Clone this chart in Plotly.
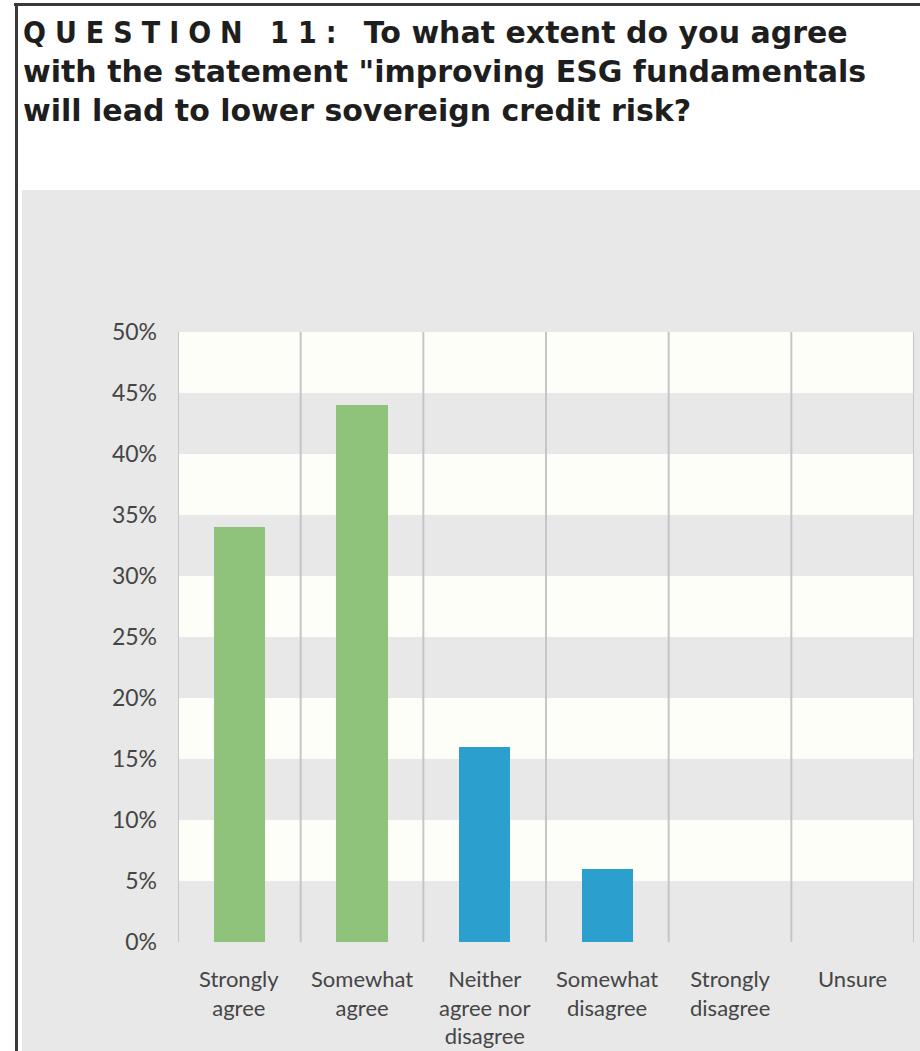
import plotly.graph_objects as go

# Survey responses (share of respondents)
categories = ["Strongly<br>agree", "Somewhat<br>agree", "Neither<br>agree nor<br>disagree",
              "Somewhat<br>disagree", "Strongly<br>disagree", "Unsure"]
shares = [34, 44, 16, 6, 0, 0]
bar_colors = ["#8fc27a", "#8fc27a", "#2b9fcd", "#2b9fcd", "#2b9fcd", "#2b9fcd"]
y_ticks = [0, 5, 10, 15, 20, 25, 30, 35, 40, 45, 50]
y_tick_labels = [f"{v}%" for v in y_ticks]

W, H = 920, 1051
L, R, T, B = 178, 6, 332, 109

px = lambda X: (X - L) / (W - L - R)
py = lambda Y: (H - B - Y) / (H - T - B)

fig = go.Figure()
fig.add_trace(go.Bar(
    x=list(range(len(categories))), y=shares,
    marker=dict(color=bar_colors, line=dict(width=0)),
    width=0.42, showlegend=False, hoverinfo="skip",
))

shapes = [
    # page frame: top and left rules
    dict(type="line", xref="paper", yref="paper", x0=px(14), x1=px(W + 5), y0=py(4.5), y1=py(4.5),
         line=dict(color="#3a3a3a", width=3), layer="above"),
    dict(type="line", xref="paper", yref="paper", x0=px(16.5), x1=px(16.5), y0=py(3), y1=py(H + 5),
         line=dict(color="#3a3a3a", width=3), layer="above"),
    # grey chart panel
    dict(type="rect", xref="paper", yref="paper", x0=px(22), x1=px(W + 5), y0=py(190), y1=py(H + 5),
         fillcolor="#e8e8e8", line=dict(width=0), layer="below"),
]
# alternating light bands
for lo in range(5, 50, 10):
    shapes.append(dict(type="rect", xref="x", yref="y", x0=-0.5, x1=5.5, y0=lo, y1=lo + 5,
                       fillcolor="#fdfef8", line=dict(width=0), layer="below"))
# category separators
for i in range(len(categories) + 1):
    shapes.append(dict(type="line", xref="x", yref="y", x0=i - 0.5, x1=i - 0.5, y0=0, y1=50,
                       line=dict(color="#c3c7c6", width=2), layer="below"))

annotations = []
# question heading
title = ("<span style='font-family:\"DejaVu Sans Condensed\";letter-spacing:9px'>"
         "QUESTION 11: </span>To what extent do you agree<br>"
         "with the statement \"improving ESG fundamentals<br>"
         "will lead to lower sovereign credit risk?")
annotations.append(dict(
    text=title, xref="paper", yref="paper", x=px(21), y=py(13),
    xanchor="left", yanchor="top", align="left", showarrow=False,
    font=dict(family="DejaVu Sans", size=30, color="#1e1e1e", weight="bold"),
))
# category labels under each column
for i, label in enumerate(categories):
    annotations.append(dict(
        text=label, xref="x", yref="paper", x=i, y=py(963),
        xanchor="center", yanchor="top", align="center", showarrow=False,
        font=dict(family="Lato", size=22, color="#454545"),
    ))

fig.update_layout(
    width=W, height=H,
    margin=dict(l=L, r=R, t=T, b=B),
    paper_bgcolor="white", plot_bgcolor="#e8e8e8",
    bargap=0,
    shapes=shapes,
    annotations=annotations,
    font=dict(family="Lato", color="#454545"),
    xaxis=dict(
        range=[-0.5, 5.5], showticklabels=False, showgrid=False, zeroline=False,
        showline=False, ticks="",
    ),
    yaxis=dict(
        range=[0, 50], tickmode="array", tickvals=y_ticks, ticktext=y_tick_labels,
        showgrid=False, zeroline=False, showline=False, ticks="",
        tickfont=dict(family="Lato", size=23, color="#454545"), ticklabelstandoff=20,
    ),
)

fig.write_html("out.html")
